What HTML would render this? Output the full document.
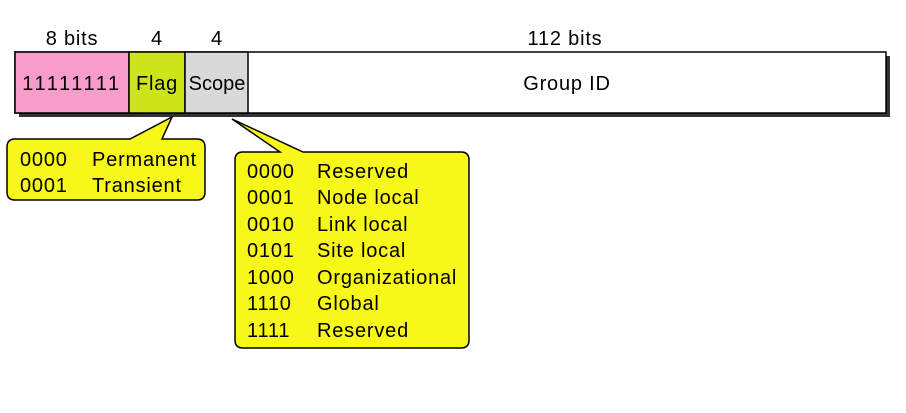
<!DOCTYPE html>
<html><head><style>body{margin:0;background:#fff}</style></head><body>
<svg width="906" height="408" xmlns="http://www.w3.org/2000/svg" font-family="Liberation Sans, sans-serif" font-size="20" fill="#000" letter-spacing="0.8">
<rect x="19" y="56" width="871" height="61" fill="#333"/>
<rect x="15" y="52" width="871" height="61" fill="#fff" stroke="#000" stroke-width="1.5"/>
<rect x="15" y="52" width="114" height="61" fill="#f79ccb" stroke="#000" stroke-width="1.5"/>
<rect x="129" y="52" width="56" height="61" fill="#cce51a" stroke="#000" stroke-width="1.5"/>
<rect x="185" y="52" width="63" height="61" fill="#d9d9d9" stroke="#000" stroke-width="1.5"/>
<g text-anchor="middle">
<text x="72" y="45">8 bits</text><text x="157" y="45">4</text><text x="217" y="45">4</text><text x="565" y="45">112 bits</text>
<text x="72" y="90" letter-spacing="2.6">11111111</text><text x="157" y="90">Flag</text><text x="217" y="90" letter-spacing="0">Scope</text><text x="567" y="90">Group ID</text>
</g>
<path d="M19,139 H130 L172,117 L162,139 H197 Q205,139 205,147 V192 Q205,200 197,200 H15 Q7,200 7,192 V147 Q7,139 15,139 Z" fill="#f7f71a" stroke="#000" stroke-width="1.5"/>
<text x="20" y="166">0000</text><text x="92" y="166">Permanent</text>
<text x="20" y="192">0001</text><text x="92" y="192">Transient</text>
<path d="M243,152 H280 L232,119 L303,152 H461 Q469,152 469,160 V340 Q469,348 461,348 H243 Q235,348 235,340 V160 Q235,152 243,152 Z" fill="#f7f71a" stroke="#000" stroke-width="1.5"/>
<g>
<text x="247" y="178">0000</text><text x="317" y="178">Reserved</text>
<text x="247" y="204">0001</text><text x="317" y="204">Node local</text>
<text x="247" y="231">0010</text><text x="317" y="231">Link local</text>
<text x="247" y="257">0101</text><text x="317" y="257">Site local</text>
<text x="247" y="284">1000</text><text x="317" y="284">Organizational</text>
<text x="247" y="310">1110</text><text x="317" y="310">Global</text>
<text x="247" y="337">1111</text><text x="317" y="337">Reserved</text>
</g>
</svg>
</body></html>
